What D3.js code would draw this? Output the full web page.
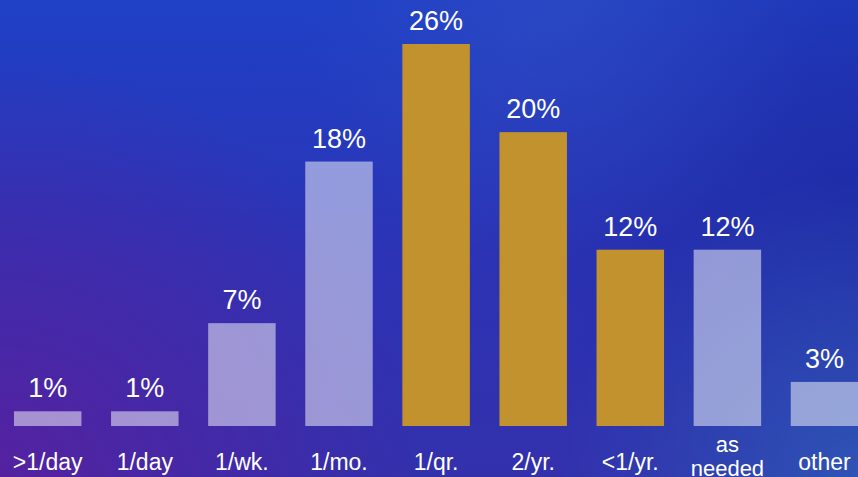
<!DOCTYPE html>
<html>
<head>
<meta charset="utf-8">
<script src="https://cdn.jsdelivr.net/npm/d3@7"></script>
<style>
  html, body { margin: 0; padding: 0; background: #2a36b4; }
  svg { display: block; }
</style>
</head>
<body>
<svg id="chart" width="858" height="477"></svg>
<script>
// frequency categories and share of respondents (%)
const categories = [">1/day", "1/day", "1/wk.", "1/mo.", "1/qr.", "2/yr.", "<1/yr.", "as needed", "other"]
const values = [1, 1, 7, 18, 26, 20, 12, 12, 3]
const highlighted = ["1/qr.", "2/yr.", "<1/yr."]

const width = 858
const height = 477
const baseline = 426

const svg = d3.select("#chart")
const defs = svg.append("defs")

// background: layered gradients
const lin = defs.append("linearGradient").attr("id", "bgLin")
  .attr("x1", 0).attr("y1", 0).attr("x2", 0).attr("y2", 1)
lin.append("stop").attr("offset", "0%").attr("stop-color", "#1f40c6")
lin.append("stop").attr("offset", "55%").attr("stop-color", "#2c33b4")
lin.append("stop").attr("offset", "100%").attr("stop-color", "#3330ac")

const radial = (id, cx, cy, r, color, op) => {
  const g = defs.append("radialGradient").attr("id", id)
    .attr("gradientUnits", "userSpaceOnUse")
    .attr("cx", cx).attr("cy", cy).attr("r", r)
  g.append("stop").attr("offset", "0%").attr("stop-color", color).attr("stop-opacity", op)
  g.append("stop").attr("offset", "100%").attr("stop-color", color).attr("stop-opacity", 0)
}
radial("bgPurple", 0, 477, 420, "#5a1f9e", 0.85)
radial("bgRight", 858, 200, 380, "#1b28a0", 0.7)
radial("bgBR", 858, 477, 300, "#2f5cb8", 0.8)
radial("bgTop", 560, 0, 260, "#3550c2", 0.5)

svg.append("rect").attr("width", width).attr("height", height).attr("fill", "url(#bgLin)")
;["bgPurple", "bgRight", "bgBR", "bgTop"].forEach((id) => {
  svg.append("rect").attr("width", width).attr("height", height).attr("fill", `url(#${id})`)
})

const x = d3.scaleBand()
  .domain(categories)
  .range([-0.8, 873])
  .paddingInner(0.305)
  .paddingOuter(0.152)

const y = d3.scaleLinear()
  .domain([0, 26])
  .range([baseline, 44])

// bars
svg.append("g")
  .selectAll("rect")
  .data(categories)
  .join("rect")
  .attr("x", (d) => x(d))
  .attr("y", (d, i) => y(values[i]))
  .attr("width", x.bandwidth())
  .attr("height", (d, i) => baseline - y(values[i]))
  .attr("fill", (d) => (highlighted.includes(d) ? "#c1922e" : "#ffffff"))
  .attr("fill-opacity", (d) => (highlighted.includes(d) ? 1 : 0.5))

// value labels
svg.append("g")
  .selectAll("text")
  .data(categories)
  .join("text")
  .attr("x", (d) => x(d) + x.bandwidth() / 2)
  .attr("y", (d, i) => y(values[i]) - 14)
  .attr("text-anchor", "middle")
  .attr("fill", "#ffffff")
  .attr("font-family", "Liberation Sans, Arial, sans-serif")
  .attr("font-size", "27px")
  .text((d, i) => values[i] + "%")

// category labels
const catLabels = svg.append("g")
  .selectAll("text")
  .data(categories)
  .join("text")
  .attr("x", (d) => x(d) + x.bandwidth() / 2)
  .attr("y", 470)
  .attr("text-anchor", "middle")
  .attr("fill", "#ffffff")
  .attr("font-family", "Liberation Sans, Arial, sans-serif")
  .attr("font-size", "23px")

catLabels.each(function (d) {
  const t = d3.select(this)
  if (d === "as needed") {
    t.attr("font-size", "22px")
    t.append("tspan").attr("x", x(d) + x.bandwidth() / 2).attr("y", 452).text("as")
    t.append("tspan").attr("x", x(d) + x.bandwidth() / 2).attr("y", 476).text("needed")
  } else {
    t.text(d)
  }
})
</script>
</body>
</html>
